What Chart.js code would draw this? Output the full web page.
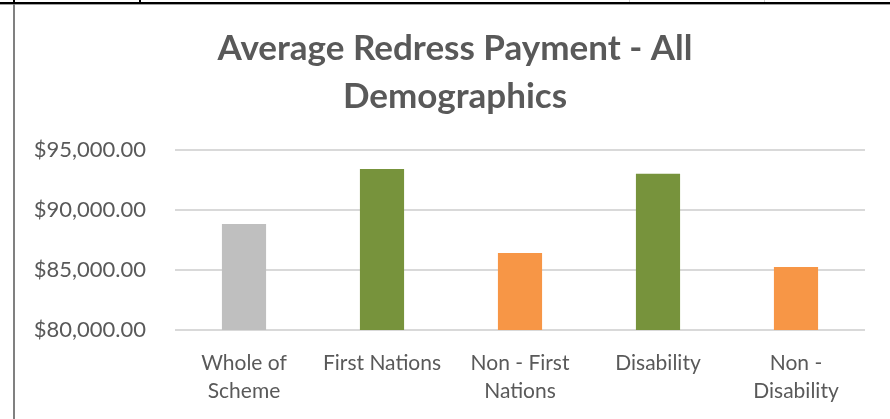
<!DOCTYPE html>
<html>
<head>
<meta charset="utf-8">
<script src="https://cdn.jsdelivr.net/npm/chart.js@4"></script>
<style>
  html, body { margin: 0; padding: 0; background: #fff; }
  #wrap { width: 890px; height: 419px; position: relative; }
</style>
</head>
<body>
<div id="wrap"><canvas id="redressChart"></canvas></div>
<script>
// categories (two-line labels) and average payment per group
const categories = [
    ['Whole of', 'Scheme'],
    ['First Nations'],
    ['Non - First', 'Nations'],
    ['Disability'],
    ['Non -', 'Disability']
];
const avgPayment = [88830, 93420, 86420, 93030, 85250];
const yTicks = [80000, 85000, 90000, 95000];

const barColours = ['#bfbfbf', '#77933c', '#f79646', '#77933c', '#f79646'];
const textGrey = '#595959';

const money = v => '$' + v.toLocaleString('en-US', { minimumFractionDigits: 2, maximumFractionDigits: 2 });

/* ---- рамка клітинки навколо діаграми ---- */
const sheetFrame = {
    id: 'sheetFrame',
    afterLayout(chart) {
        // заголовок центруємо по всій рамці, а не по області з відступами
        if (chart.titleBlock) {
            chart.titleBlock.left = 20;
            chart.titleBlock.right = 890;
        }
    },
    beforeDraw(chart) {
        const ctx = chart.ctx;
        ctx.save();
        // тонкі лінії сітки аркуша над діаграмою
        ctx.fillStyle = '#d0d0d0';
        ctx.fillRect(629, 0, 1, 3);
        ctx.fillRect(764, 0, 1, 3);
        ctx.fillStyle = '#000';
        ctx.fillRect(0, 2, 890, 2);
        ctx.fillRect(13, 0, 2, 3);
        ctx.fillRect(139, 0, 2, 3);
        ctx.fillStyle = '#a0a0a0';
        ctx.fillRect(0, 4, 890, 1);
        ctx.fillStyle = '#808080';
        ctx.fillRect(13, 4, 2, 415);
        ctx.restore();
    }
};

new Chart(document.getElementById('redressChart'), {
    type: 'bar',
    data: {
        labels: categories,
        datasets: [{
            data: avgPayment,
            backgroundColor: barColours,
            borderWidth: 0,
            barPercentage: 1,
            categoryPercentage: 0.32
        }]
    },
    options: {
        responsive: true,
        maintainAspectRatio: false,
        animation: false,
        layout: { padding: { left: 16, right: 25, top: 0, bottom: 9 } },
        plugins: {
            legend: { display: false },
            tooltip: { enabled: false },
            title: {
                display: true,
                text: ['Average Redress Payment - All', 'Demographics'],
                color: textGrey,
                font: { family: 'Lato', weight: 'bold', size: 35, lineHeight: '48px' },
                padding: { top: 25, bottom: 29 }
            }
        },
        scales: {
            x: {
                grid: { display: false },
                border: { display: false },
                afterFit(scale) { scale.height = 80; },
                ticks: {
                    color: textGrey,
                    font: { family: 'Lato', size: 21, lineHeight: '28px' },
                    padding: 11,
                    maxRotation: 0,
                    autoSkip: false
                }
            },
            y: {
                min: yTicks[0],
                max: yTicks[yTicks.length - 1],
                afterBuildTicks(scale) {
                    scale.ticks = yTicks.map(v => ({ value: v }));
                },
                afterFit(scale) { scale.width = 159; },
                grid: { color: '#d9d9d9', lineWidth: 2, drawTicks: false },
                border: { display: false },
                ticks: {
                    color: textGrey,
                    font: { family: 'Lato', size: 22 },
                    padding: 29,
                    callback: v => money(v)
                }
            }
        }
    },
    plugins: [sheetFrame]
});
</script>
</body>
</html>
